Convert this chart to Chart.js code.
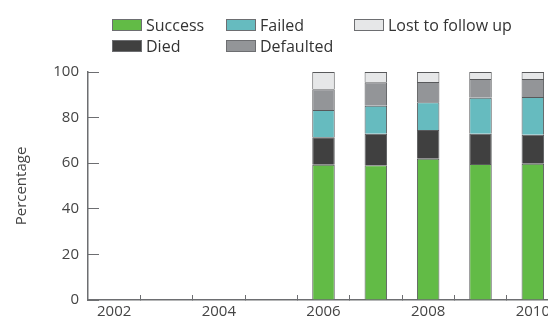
<!DOCTYPE html>
<html>
<head>
<meta charset="utf-8">
<script src="https://cdn.jsdelivr.net/npm/chart.js@4"></script>
<style>
  body { margin: 0; background: #fff; }
  #wrap { position: relative; width: 548px; height: 320px; overflow: hidden; }
  #box { position: absolute; left: 0; top: 0; width: 570px; height: 320px; }
  .leg { position: absolute; font-family: "Open Sans", sans-serif; font-size: 16px; color: #333; display: flex; align-items: center; white-space: nowrap; }
  .leg span.sw { display: inline-block; width: 28px; height: 10px; border: 1px solid #6d6e71; margin-right: 4px; }
</style>
</head>
<body>
<div id="wrap">
  <div id="box"><canvas id="chart"></canvas></div>
  <div id="legend"></div>
</div>
<script>
// Años y valores (porcentaje)
const years = ["2002", "2003", "2004", "2005", "2006", "2007", "2008", "2009", "2010"];
const success = [null, null, null, null, 59.3, 59.1, 62.0, 59.6, 59.8];
const died = [null, null, null, null, 12.1, 13.8, 12.6, 13.3, 12.7];
const failed = [null, null, null, null, 11.9, 12.3, 12.1, 15.8, 16.5];
const defaulted = [null, null, null, null, 9.1, 10.3, 8.9, 8.2, 7.9];
const lost = [null, null, null, null, 7.6, 4.5, 4.4, 3.1, 3.1];
const yTicks = [0, 20, 40, 60, 80, 100];

const series = [
  { label: "Success", data: success, color: "#62bb46" },
  { label: "Died", data: died, color: "#404040" },
  { label: "Failed", data: failed, color: "#66bbbf" },
  { label: "Defaulted", data: defaulted, color: "#939598" },
  { label: "Lost to follow up", data: lost, color: "#e6e7e8" }
];

// Leyenda en HTML (dos filas como el original)
const legendPos = {
  "Success": [112, 14], "Failed": [226, 14], "Lost to follow up": [354, 14],
  "Died": [112, 35], "Defaulted": [226, 35]
};
const legend = document.getElementById("legend");
series.forEach(s => {
  const d = document.createElement("div");
  d.className = "leg";
  d.style.left = legendPos[s.label][0] + "px";
  d.style.top = legendPos[s.label][1] + "px";
  d.innerHTML = `<span class="sw" style="background:${s.color}"></span>${s.label}`;
  legend.appendChild(d);
});

const axisColor = "#6d6e71";
const font = { family: "Open Sans", size: 15 };

new Chart(document.getElementById("chart"), {
  type: "bar",
  data: {
    labels: years,
    datasets: series.map(s => ({
      label: s.label,
      data: s.data,
      backgroundColor: s.color,
      borderColor: "#58595b",
      borderWidth: 1,
      barPercentage: 0.43,
      categoryPercentage: 1
    }))
  },
  options: {
    responsive: true,
    maintainAspectRatio: false,
    animation: false,
    layout: { padding: { top: 72, right: 11, left: 0, bottom: 0 } },
    plugins: { legend: { display: false }, tooltip: { enabled: false } },
    scales: {
      x: {
        stacked: true,
        grid: { drawOnChartArea: false, tickLength: -5, color: axisColor, lineWidth: 1 },
        border: { color: axisColor, width: 1.5 },
        ticks: {
          color: "#444", font: font, padding: 8, maxRotation: 0,
          autoSkip: false,
          callback: function (v, i) { return i % 2 === 0 ? years[i] : ""; }
        },
        afterFit: s => { s.height = 20; }
      },
      y: {
        stacked: true,
        min: 0, max: 100,
        afterBuildTicks: s => { s.ticks = yTicks.map(v => ({ value: v })); },
        grid: { drawOnChartArea: false, tickLength: -11, color: axisColor, lineWidth: 1 },
        border: { color: axisColor, width: 1.5 },
        ticks: { color: "#444", font: font, padding: 20 },
        title: { display: true, text: "Percentage", color: "#444", font: font, padding: { top: 13 } },
        afterFit: s => { s.width = 88; s.paddingTop = 0; s.paddingBottom = 0; }
      }
    }
  }
});
</script>
</body>
</html>
